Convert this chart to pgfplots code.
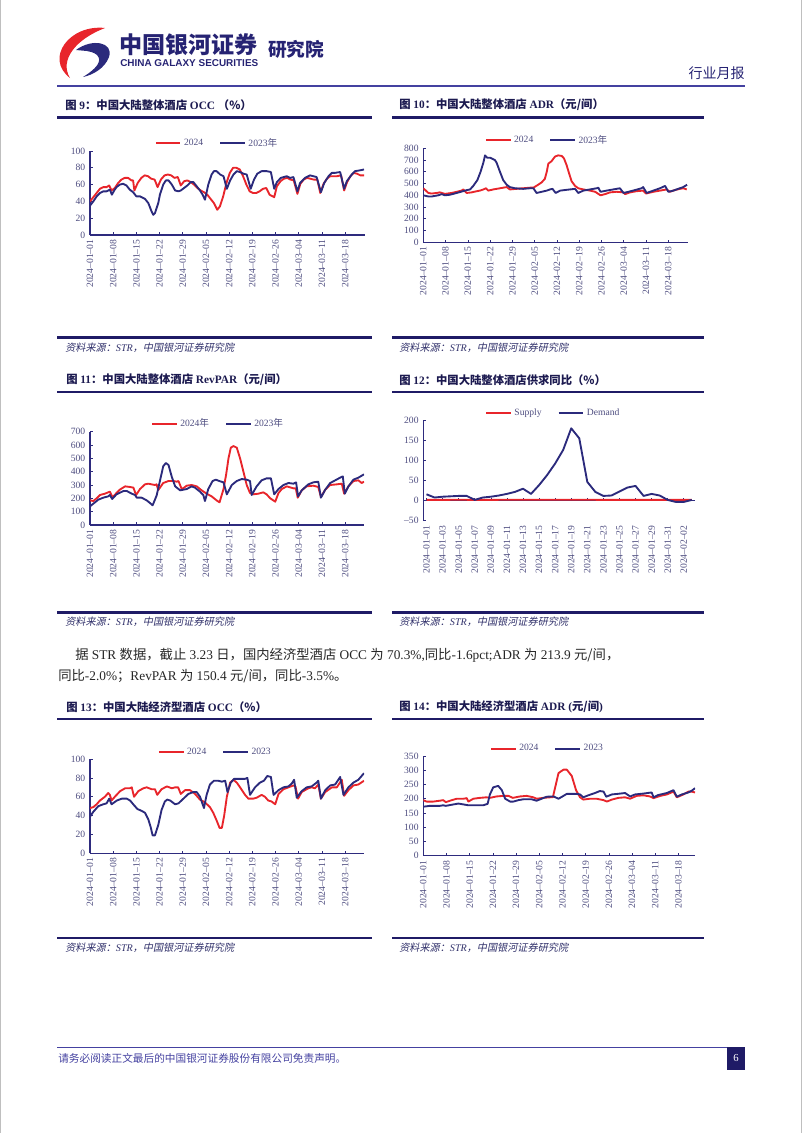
\documentclass[border=0pt]{standalone}
\usepackage{fontspec}
\setmainfont{Liberation Serif}
\newfontfamily\cjk{Noto Sans CJK SC}
\newfontfamily\cjkit{Noto Sans CJK SC}[FakeSlant=0.2]
\newfontfamily\sansf{Liberation Sans}
\usepackage{pgfplots}
\pgfplotsset{compat=1.18}
\definecolor{redc}{HTML}{E8252B}
\definecolor{bluec}{HTML}{2B2A7C}
\definecolor{axisc}{HTML}{2E2B7E}
\definecolor{tickc}{HTML}{4E4D80}
\definecolor{rulec}{HTML}{1F1B66}
\definecolor{hrulec}{HTML}{4441A0}
\definecolor{titlec}{HTML}{1C1A50}
\definecolor{srcc}{HTML}{30306A}
\definecolor{logoc}{HTML}{262373}
\newcommand\tb[1]{{\cjk\bfseries #1}}
\newcommand\cj[1]{{\cjk #1}}
\pgfplotsset{
  rep/.style={
    scale only axis, anchor=south west,
    axis x line*=bottom, axis y line*=left,
    axis line style={axisc, line width=0.8pt},
    every tick/.style={axisc, line width=0.5pt},
    major tick length=2pt,
    tick label style={font=\fontsize{7.2}{8}\selectfont, text=tickc},
    /pgf/number format/assume math mode=true,
    yticklabel style={anchor=east},
    legend style={draw=none, fill=none, legend columns=2, anchor=west,
      font=\fontsize{7.2}{8}\selectfont, text=tickc, inner sep=0pt,
      /tikz/every even column/.append style={column sep=10pt}},
    legend image code/.code={\draw[##1, line width=1.4pt] (0pt,0pt) -- (18.5pt,0pt);},
    every axis plot/.append style={line width=1.4pt, line join=round},
  },
  week/.style={xtick={0,7,...,77},
    xticklabels={2024--01--01,2024--01--08,2024--01--15,2024--01--22,2024--01--29,2024--02--05,2024--02--12,2024--02--19,2024--02--26,2024--03--04,2024--03--11,2024--03--18},
    xticklabel style={rotate=90, anchor=east}},
}
\begin{document}
\begin{tikzpicture}
\begin{scope}[x=0.75pt,y=-0.75pt]
\useasboundingbox (0,0) rectangle (802,1133);
\draw[black!25, line width=0.5pt] (0.4,0) -- (0.4,1133) (801.6,0) -- (801.6,1133);
% ---------- header ----------
\fill[redc] (105,28) .. controls (70,24) and (44,58) .. (70,78) .. controls (59,60) and (76,39) .. (105,28) -- cycle;
\fill[bluec] (76,50) .. controls (92,38) and (114,42) .. (109,57) .. controls (105,68) and (93,75) .. (83,77) .. controls (96,69) and (103,61) .. (97,55) .. controls (91,50) and (83,51) .. (76,50) -- cycle;
\node[anchor=west, inner sep=0, text=logoc, font=\cjk\bfseries\fontsize{17.3}{18}\selectfont] at (119,45) {中国银河证券};
\node[anchor=west, inner sep=0, text=logoc] at (120,63) {\resizebox{103.5pt}{!}{\sansf\bfseries CHINA GALAXY SECURITIES}};
\node[anchor=west, inner sep=0, text=logoc, font=\cjk\bfseries\fontsize{14}{15}\selectfont] at (268,49) {研究院};
\node[anchor=east, inner sep=0, text=logoc, font=\cjk\fontsize{10.5}{12}\selectfont] at (745,73) {行业月报};
\draw[hrulec, line width=1.1pt] (57,86) -- (745,86);
% ---------- titles and rules ----------
\begin{scope}[every node/.style={anchor=west, inner sep=0, text=titlec, font=\fontsize{8.5}{10}\selectfont\bfseries}]
\node at (65,105) {\tb{图} 9\tb{：中国大陆整体酒店} OCC \tb{（\%）}};
\node at (399,105) {\tb{图} 10\tb{：中国大陆整体酒店} ADR\tb{（元/间）}};
\node at (66,380) {\tb{图} 11\tb{：中国大陆整体酒店} RevPAR\tb{（元/间）}};
\node at (399,380) {\tb{图} 12\tb{：中国大陆整体酒店供求同比（\%）}};
\node at (66,707) {\tb{图} 13\tb{：中国大陆经济型酒店} OCC\tb{（\%）}};
\node at (399,707) {\tb{图} 14\tb{：中国大陆经济型酒店} ADR (\tb{元/间})};
\end{scope}
\begin{scope}[rulec, line width=2.2pt]
\draw (57,117.5) -- (372,117.5); \draw (392,117.5) -- (704,117.5);
\draw (57,392) -- (372,392); \draw (392,392) -- (704,392);
\draw (57,719) -- (372,719); \draw (392,719) -- (704,719);
\draw (57,337.5) -- (372,337.5); \draw (392,337.5) -- (704,337.5);
\draw (57,612.5) -- (372,612.5); \draw (392,612.5) -- (704,612.5);
\draw (57,938) -- (372,938); \draw (392,938) -- (704,938);
\end{scope}
\begin{scope}[every node/.style={anchor=west, inner sep=0, text=srcc, font=\fontsize{7.6}{9}\selectfont}]
\foreach \xx/\yy in {65/348,399/348,65/622,399/622,65/948,399/948}
  \node at (\xx,\yy) {{\cjkit 资料来源：}{\itshape STR}{\cjkit ，中国银河证券研究院}};
\end{scope}
% ---------- paragraph ----------
\node[anchor=west, inner sep=0, font=\fontsize{10}{11}\selectfont, text=black!85] at (75,655) {\cj{据} STR \cj{数据，截止} 3.23 \cj{日，国内经济型酒店} OCC \cj{为} 70.3\%,\cj{同比}-1.6pct;ADR \cj{为} 213.9 \cj{元/间，}};
\node[anchor=west, inner sep=0, font=\fontsize{10}{11}\selectfont, text=black!85] at (58,676) {\cj{同比}-2.0\%\cj{；}RevPAR \cj{为} 150.4 \cj{元/间，同比}-3.5\%\cj{。}};
% ---------- footer ----------
\draw[hrulec, line width=1.1pt] (57,1047.5) -- (745,1047.5);
\node[anchor=west, inner sep=0, text=hrulec, font=\cjk\fontsize{8}{9}\selectfont] at (58,1058) {请务必阅读正文最后的中国银河证券股份有限公司免责声明。};
\fill[rulec] (727,1047) rectangle (745,1070);
\node[text=white, inner sep=0, font=\fontsize{8}{9}\selectfont] at (736,1058.5) {6};
\end{scope}

% ---------- chart 9 ----------
\begin{axis}[rep, week, at={(67.5pt,-176.25pt)}, width=206.25pt, height=63pt,
  xmin=0, xmax=83, ymin=0, ymax=100, ytick={0,20,...,100},
  legend style={at={(axis description cs:0.235,1.095)}}]
\addplot[redc] coordinates {(0,40)(1,45)(2,50)(3,55)(4,57)(5,57)(5.8,59)(6.5,53)(7.5,56)(8.5,62)(9.5,66)(10.5,68)(11.5,68)(12.5,65)(13,65)(13.4,53)(14.4,62)(15.5,68)(16.5,71)(17.5,70)(18.5,67)(19.5,66)(20.4,57)(21.4,66)(22.5,71)(23.5,72)(24.5,71)(25.5,68)(26.5,69)(27.4,59)(28.4,64)(29.4,65)(30.4,63)(31.4,60)(32.4,56)(33.4,53)(34.4,51)(35.4,48)(36.4,43)(37.4,38)(38.4,30)(39.2,34)(40.2,46)(41.2,62)(42.2,74)(43.2,80)(44.2,80)(45.2,78)(46.2,70)(47.2,60)(48.2,52)(49.2,50)(50.2,50)(51.2,52)(52.2,55)(53.2,56)(54.2,48)(55.6,45)(56.4,58)(57.5,64)(58.5,67)(59.5,68)(60.5,66)(61.5,65)(62.6,49)(63.5,61)(64.5,66)(65.5,68)(66.5,67)(67.5,66)(68.6,66)(69.5,50)(70.5,61)(71.5,67)(72.5,70)(73.5,70)(74.5,70)(75.8,71)(76.7,53)(77.6,63)(78.6,70)(79.6,74)(80.6,73)(81.6,71)(82.7,71)};
\addlegendentry{2024}
\addplot[bluec] coordinates {(0,35)(1,40)(2,46)(3,50)(4,52)(5,52)(6,54)(6.6,48)(7.3,53)(8,57)(9,60)(10,61)(11,59)(12,54)(13,51)(14,46)(15.1,46)(16.6,43)(17.6,38)(18.6,28)(19.1,24)(19.6,26)(20.6,38)(21.1,48)(22.1,60)(22.9,65)(23.7,65)(24.7,60)(25.7,53)(26.7,52)(27.4,53)(28.4,56)(29.4,59)(30.4,63)(31.2,63)(32.2,58)(33.2,53)(34,48)(34.7,42)(35.7,60)(36.7,72)(37.4,76)(38.2,76)(39.3,72)(40.3,70)(41.3,55)(42.3,65)(43.3,72)(44.3,76)(45.3,75)(46.3,73)(47.3,72)(48.5,55)(49.5,66)(50.5,73)(51.8,76)(53.3,76)(54.6,75)(55.6,55)(56.4,63)(57.6,68)(59.4,70)(60.4,68)(61.4,69)(62.6,52)(63.4,62)(64.9,68)(66.4,71)(67.4,70)(68.4,69)(69.7,51)(70.7,62)(72,70)(73,74)(74,74)(75.5,75)(76.7,55)(77.5,64)(79,72)(80,76)(81.5,77)(82.7,78)};
\addlegendentry{2023\cj{年}}
\end{axis}

% ---------- chart 10 ----------
\begin{axis}[rep, week, at={(317.475pt,-181.725pt)}, width=198.3pt, height=70.5pt,
  xmin=0, xmax=83.1, ymin=0, ymax=800, ytick={0,100,...,800},
  legend style={at={(axis description cs:0.232,1.088)}}]
\addplot[redc] coordinates {(0,460)(1.6,420)(2.6,415)(4.2,420)(5.2,425)(6.8,412)(8.9,420)(10.5,430)(12,440)(12.6,450)(13.6,420)(15.2,425)(16.8,435)(17.8,440)(18.9,450)(19.7,460)(20.4,440)(22,450)(24.1,460)(26.2,470)(27.2,450)(29.3,455)(31.4,460)(33.5,465)(34.6,465)(36.1,490)(37.2,510)(38.2,540)(38.8,600)(39.3,670)(40.3,690)(41.4,730)(42.4,740)(43.5,735)(44.2,715)(45,660)(45.9,580)(46.6,520)(47.7,480)(48.7,460)(50.3,450)(52.4,440)(54,430)(55.7,400)(57.1,410)(58.7,425)(60.8,430)(62.9,425)(63.4,410)(65,425)(67,435)(69.1,440)(70,415)(72.3,430)(74.4,440)(76.5,450)(77.5,430)(79.1,445)(80.7,455)(81.7,460)(82.8,450)};
\addlegendentry{2024}
\addplot[bluec] coordinates {(0,400)(1.6,390)(2.6,390)(4.7,400)(5.8,410)(6.8,400)(8.4,405)(10.5,420)(13.1,440)(13.8,445)(14.7,450)(15.7,480)(17,530)(18,600)(18.9,680)(19.4,740)(20.1,720)(21,720)(22.5,700)(23,680)(24.1,600)(25.1,530)(26.2,490)(27.2,470)(28.8,460)(31.4,455)(33.5,460)(34.6,460)(35.6,420)(37.2,430)(38.8,440)(39.8,450)(40.6,455)(41.6,420)(43,440)(44.5,445)(46.1,450)(47.7,455)(48.7,420)(50.3,440)(52.4,450)(54.5,460)(55,465)(55.7,430)(57.6,440)(59.7,450)(61.8,460)(62.9,420)(64.5,430)(66.6,445)(68.6,460)(69.1,470)(70.2,420)(72.3,440)(74.4,460)(76,480)(77,430)(78.6,440)(80.1,455)(81.7,470)(82.9,490)};
\addlegendentry{2023\cj{年}}
\end{axis}

% ---------- chart 11 ----------
\begin{axis}[rep, week, at={(67.5pt,-393.75pt)}, width=205.5pt, height=70pt,
  xmin=0, xmax=82.7, ymin=0, ymax=700, ytick={0,100,...,700},
  legend style={at={(axis description cs:0.222,1.083)}}]
\addplot[redc] coordinates {(0,185)(1,180)(2,200)(3,225)(4.5,235)(6,250)(6.8,208)(8,240)(9,265)(10.6,290)(12.1,285)(13.1,280)(13.9,225)(15.1,270)(16.6,305)(17.6,310)(18.6,305)(19.6,300)(20.1,305)(20.6,262)(22.1,315)(23.7,330)(25.2,330)(26.2,325)(26.7,330)(27.7,268)(29.2,295)(30.7,300)(32.2,290)(33.7,260)(35.2,235)(36.7,215)(38.2,185)(39.1,170)(40.3,270)(41.1,380)(41.8,500)(42.5,580)(43.3,592)(44.3,580)(45.3,500)(46.3,400)(47.3,300)(48.3,240)(49.3,230)(50.8,235)(52.3,245)(53.3,230)(54.4,200)(55.9,175)(56.9,240)(57.9,270)(59.4,290)(61.4,275)(62.1,275)(62.7,205)(63.9,260)(65.4,290)(67.4,295)(68.9,285)(69.7,210)(71,265)(72.5,300)(74.5,305)(76,310)(76.7,235)(78,290)(79.5,330)(81,335)(82,315)(82.7,325)};
\addlegendentry{2024\cj{年}}
\addplot[bluec] coordinates {(0,140)(1,160)(2.5,190)(4,205)(5.5,215)(6,225)(6.7,195)(8,230)(10.1,255)(11.1,255)(12.6,235)(13.6,225)(14.1,205)(15.6,205)(17.1,185)(18.1,165)(18.9,148)(20.1,220)(21.1,330)(22.1,440)(22.9,465)(23.7,450)(24.7,360)(25.7,290)(27.2,260)(29.2,270)(30.7,290)(31.7,280)(33.2,250)(34.2,225)(34.7,180)(35.7,270)(37,330)(38,340)(39,330)(40.3,320)(41.3,230)(42.8,300)(44.3,330)(45.8,345)(47.3,340)(48.3,330)(48.8,225)(50.3,290)(51.8,335)(53.3,350)(54.6,350)(55.6,230)(56.9,270)(58.4,300)(59.9,315)(61.4,310)(62.2,320)(62.8,215)(63.9,260)(65.9,305)(67.4,320)(68.9,325)(69.7,205)(71,265)(72.5,315)(74,335)(75.5,355)(76.3,365)(76.9,235)(78,290)(79.5,340)(81,355)(82.7,380)};
\addlegendentry{2023\cj{年}}
\end{axis}

% ---------- chart 12 ----------
\begin{axis}[rep, at={(317.475pt,-390.525pt)}, width=203.8pt, height=75pt,
  axis x line*=middle, x axis line style={-},
  xmin=-0.4, xmax=33.4, ymin=-50, ymax=200, ytick={-50,0,...,200},
  yticklabels={--50,0,50,100,150,200},
  xtick={0,2,...,32},
  xticklabels={2024--01--01,2024--01--03,2024--01--05,2024--01--07,2024--01--09,2024--01--11,2024--01--13,2024--01--15,2024--01--17,2024--01--19,2024--01--21,2024--01--23,2024--01--25,2024--01--27,2024--01--29,2024--01--31,2024--02--02},
  xticklabel style={yshift=-15pt, rotate=90, anchor=east},
  legend style={at={(axis description cs:0.227,1.077)}}]
\addplot[redc] coordinates {(0,2)(2,2)(4,2.5)(6,2)(8,2)(10,2.5)(12,2.5)(14,2.5)(16,2.5)(18,2.5)(20,2.5)(22,2)(24,2)(26,2)(28,2)(30,2)(32,2)(33,2)};
\addlegendentry{Supply}
\addplot[bluec] coordinates {(0,16)(1,8)(2,10)(3,11)(4,12)(5,12)(6,2)(7,8)(8,10)(9,13)(10,17)(11,22)(12,30)(13,17)(14,39)(15,64)(16,93)(17,127)(18,181)(19,156)(20,47)(21,22)(22,12)(23,13)(24,23)(25,33)(26,37)(27,12)(28,17)(29,13)(30,2)(31,-3)(32,-3)(33,2)};
\addlegendentry{Demand}
\end{axis}

% ---------- chart 13 ----------
\begin{axis}[rep, week, at={(67.5pt,-639.975pt)}, width=205.5pt, height=70.7pt,
  xmin=0, xmax=82.7, ymin=0, ymax=100, ytick={0,20,...,100},
  legend style={at={(axis description cs:0.247,1.074)}}]
\addplot[redc] coordinates {(0,48)(1,49)(2,52)(3,56)(4.5,60)(5.5,64)(6,62)(6.5,56)(7.5,60)(9.1,66)(10.6,69)(12.1,69)(12.6,70)(13.3,60)(14.6,66)(16.1,69)(17.1,70)(18.6,68)(19.6,68)(20.3,62)(21.6,68)(23.2,71)(24.7,69)(25.7,70)(26.6,70)(27.4,63)(28.7,67)(30.2,67)(31.7,63)(33.2,57)(34.7,54)(36.2,49)(37.2,43)(38.2,35)(39.1,27)(39.8,27)(40.5,40)(41.3,60)(42.3,75)(43.3,78)(44.3,75)(45.3,70)(46.8,62)(47.8,58)(49.3,58)(50.3,59)(51.8,62)(52.8,60)(53.8,56)(54.8,55)(55.9,52)(56.9,63)(58.4,68)(59.9,70)(61.4,72)(62,71)(62.8,58)(63.9,65)(65.9,69)(66.9,70)(67.9,69)(68.9,73)(69.7,58)(71,65)(73,70)(74.5,70)(76,78)(76.7,61)(78,67)(79.5,72)(81,73)(82.7,77)};
\addlegendentry{2024}
\addplot[bluec] coordinates {(0,39)(1,44)(2.5,50)(4,52)(5,53)(5.8,58)(6.5,52)(8.1,56)(9.6,58)(11.1,58)(12.1,56)(13.3,51)(14.3,47)(15.6,45)(16.6,43)(17.6,36)(18.3,28)(18.9,19)(19.6,19)(20.6,30)(21.6,46)(22.6,55)(23.3,57)(24.2,56)(25.7,52)(26.7,53)(28.2,58)(29.7,63)(31.2,65)(32.2,65)(33.2,60)(34.4,48)(35.2,62)(36.2,73)(37.4,77)(38.7,77)(39.8,76)(40.8,77)(41.5,65)(42.5,75)(43.5,79)(45.3,79)(46.8,79)(47.5,80)(48.3,62)(49.8,70)(51.3,75)(52.5,77)(53.5,82)(54.6,81)(55.4,62)(56.9,67)(58.4,70)(59.9,71)(60.9,74)(61.6,78)(62.4,59)(63.9,66)(65.4,70)(66.9,71)(68.4,75)(68.9,77)(69.7,58)(71,67)(72.5,72)(74,73)(75.5,81)(76.5,62)(78,70)(79.5,75)(81,78)(82.7,85)};
\addlegendentry{2023}
\end{axis}

% ---------- chart 14 ----------
\begin{axis}[rep, week, at={(317.475pt,-641.775pt)}, width=203.8pt, height=74.8pt,
  xmin=0, xmax=82, ymin=0, ymax=350, ytick={0,50,...,350},
  legend style={at={(axis description cs:0.245,1.072)}}]
\addplot[redc] coordinates {(0,195)(1,190)(3,190)(5,193)(6,195)(6.8,188)(8.6,195)(10.1,200)(12.1,200)(13.1,202)(13.6,190)(15.1,200)(17.1,203)(19.1,205)(20.1,203)(22.1,208)(24.2,210)(25.7,210)(27,203)(29.2,208)(31.2,210)(33.2,205)(34.2,200)(36.2,203)(38.3,205)(39.1,205)(39.8,240)(40.8,290)(42.3,302)(43.3,302)(44.8,280)(46.1,230)(47.3,205)(48.3,197)(50.3,200)(52.3,200)(54.4,195)(55.4,190)(56.9,197)(58.9,203)(60.9,205)(62.4,200)(64.4,210)(66.4,212)(68.4,208)(69.5,202)(71.5,210)(73.5,215)(75.5,225)(76.5,205)(78.5,215)(80,225)(81,225)(82,222)};
\addlegendentry{2024}
\addplot[bluec] coordinates {(0,172)(2,175)(5,175)(6,177)(6.8,175)(9.1,180)(10.6,183)(12.1,180)(13.6,177)(16.1,177)(18.1,177)(19.4,182)(20.1,215)(21.1,240)(22.6,245)(23.7,230)(24.7,200)(26.2,190)(27.2,190)(28.7,195)(30.2,198)(32.7,198)(34.2,193)(35.7,200)(37.2,207)(39.3,208)(40.8,200)(42.3,210)(43.3,217)(46.3,217)(47.3,215)(48.3,205)(49.8,212)(51.8,220)(53.3,227)(54.4,225)(55.2,207)(56.9,215)(59.4,218)(60.9,220)(62.4,208)(63.9,215)(66.4,218)(68.9,222)(69.5,205)(70.9,213)(73.5,220)(75.5,230)(76.5,207)(78,215)(80,222)(81,228)(82,237)};
\addlegendentry{2023}
\end{axis}
\end{tikzpicture}
\end{document}
